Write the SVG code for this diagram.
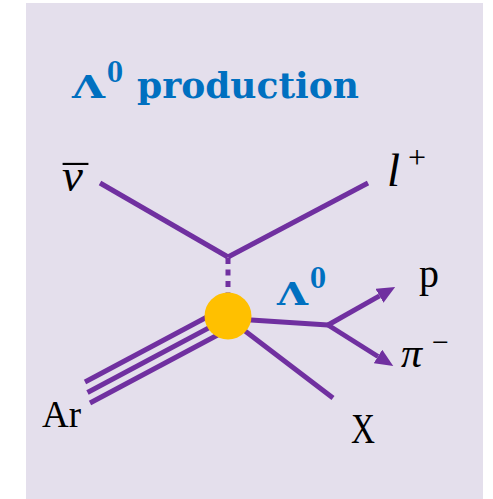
<svg xmlns="http://www.w3.org/2000/svg" width="493" height="499" viewBox="0 0 493 499">
  <defs>
    <style>
      .line { stroke: #7030A0; stroke-width: 5; fill: none; stroke-linecap: butt; }
      .blue { fill: #0070C0; font-family: "DejaVu Serif", "Liberation Serif", serif; font-weight: bold; }
      .lbl { fill: #000000; font-family: "Liberation Serif", "DejaVu Serif", serif; }
      .math { fill: #000000; font-family: "Liberation Serif", "DejaVu Serif", serif; font-style: italic; }
    </style>
    <marker id="arrow" markerUnits="userSpaceOnUse" viewBox="0 0 18 16" refX="0" refY="8" markerWidth="18" markerHeight="16" orient="auto">
      <path d="M0,0 L18,8 L0,16 z" fill="#7030A0"/>
    </marker>
  </defs>

  <rect x="26" y="3" width="457" height="496" fill="#E4DFEC"/>

  <g id="title">
    <text class="blue" font-size="31" x="72" y="98" textLength="33" lengthAdjust="spacingAndGlyphs">Λ</text>
    <text class="blue" font-size="28" x="107" y="82" textLength="16" lengthAdjust="spacingAndGlyphs">0</text>
    <text class="blue" font-size="35" x="137" y="98" textLength="222" lengthAdjust="spacingAndGlyphs">production</text>
  </g>

  <g id="connectors">
    <line class="line" x1="100" y1="183" x2="228" y2="257"/>
    <line class="line" x1="368" y1="183" x2="228" y2="257"/>
    <line class="line" x1="228" y1="258" x2="228" y2="294" stroke-dasharray="6,5.5"/>
    <line class="line" x1="85" y1="382" x2="215" y2="312.7"/>
    <line class="line" x1="87.5" y1="392.5" x2="228" y2="317.6"/>
    <line class="line" x1="90" y1="403" x2="235" y2="325.7"/>
    <line class="line" x1="228" y1="318" x2="333" y2="398"/>
    <line class="line" x1="228" y1="318.5" x2="328" y2="325"/>
    <line class="line" x1="328" y1="325" x2="379.5" y2="295.8" marker-end="url(#arrow)"/>
    <line class="line" x1="328" y1="325" x2="378" y2="356.5" marker-end="url(#arrow)"/>
  </g>

  <g id="vertex">
    <circle cx="228" cy="316" r="23.5" fill="#FFC000"/>
  </g>

  <g id="antineutrino">
    <text class="lbl" font-size="47"><tspan class="math" x="62" y="191">ν</tspan><tspan x="63" y="198" textLength="25" lengthAdjust="spacingAndGlyphs">¯</tspan></text>
  </g>
  <g id="lepton">
    <text class="math" font-size="47" x="387" y="186">l<tspan class="lbl" font-style="normal" font-size="32" x="408" y="168">+</tspan></text>
  </g>
  <g id="lambda">
    <text class="blue" font-size="31" x="277" y="305" textLength="31" lengthAdjust="spacingAndGlyphs">Λ</text>
    <text class="blue" font-size="28" x="310" y="288" textLength="16" lengthAdjust="spacingAndGlyphs">0</text>
  </g>
  <g id="proton">
    <text class="lbl" font-size="40" x="419" y="287">p</text>
  </g>
  <g id="pion">
    <text class="math" font-size="42" x="401" y="367">π<tspan class="lbl" font-style="normal" font-size="30" x="432" y="352">−</tspan></text>
  </g>
  <g id="argon">
    <text class="lbl" font-size="37" x="42" y="427">Ar</text>
  </g>
  <g id="x">
    <text class="lbl" font-size="42" x="351" y="443" textLength="24" lengthAdjust="spacingAndGlyphs">X</text>
  </g>
</svg>
